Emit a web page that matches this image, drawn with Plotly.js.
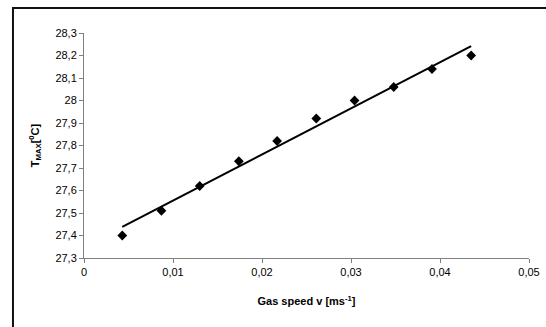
<!DOCTYPE html>
<html>
<head>
<meta charset="utf-8">
<script src="https://cdn.plot.ly/plotly-3.0.1.min.js"></script>
<style>html,body{margin:0;padding:0;background:#fff;}#chart{width:546px;height:327px;}</style>
</head>
<body>
<div id="chart"></div>
<script>
// Data
const gasSpeed = [0.0043, 0.0087, 0.0130, 0.0174, 0.0217, 0.0261, 0.0304, 0.0348, 0.0391, 0.0435];
const tMax = [27.40, 27.51, 27.62, 27.73, 27.82, 27.92, 28.00, 28.06, 28.14, 28.20];
const xTickVals = [0, 0.01, 0.02, 0.03, 0.04, 0.05];
const xTickText = ['0', '0,01', '0,02', '0,03', '0,04', '0,05'];
const yTickVals = [27.3, 27.4, 27.5, 27.6, 27.7, 27.8, 27.9, 28.0, 28.1, 28.2, 28.3];
const yTickText = ['27,3', '27,4', '27,5', '27,6', '27,7', '27,8', '27,9', '28', '28,1', '28,2', '28,3'];

// Linear least-squares trend line
const n = gasSpeed.length;
const mx = gasSpeed.reduce((a, b) => a + b, 0) / n;
const my = tMax.reduce((a, b) => a + b, 0) / n;
let sxy = 0, sxx = 0;
for (let i = 0; i < n; i++) { sxy += (gasSpeed[i] - mx) * (tMax[i] - my); sxx += (gasSpeed[i] - mx) ** 2; }
const slope = sxy / sxx, icpt = my - slope * mx;
const trendX = [gasSpeed[0], gasSpeed[n - 1]];
const trendY = trendX.map(x => icpt + slope * x);

const traces = [
  {x: trendX, y: trendY, mode: 'lines', line: {color: '#000', width: 2}, hoverinfo: 'skip', showlegend: false},
  {x: gasSpeed, y: tMax, mode: 'markers', marker: {symbol: 'diamond', size: 7.5, color: '#000'}, showlegend: false}
];

const font = {family: 'Arial, "Liberation Sans", sans-serif', size: 11, color: '#000'};
const layout = {
  width: 546, height: 327,
  margin: {l: 84, r: 17, t: 33, b: 69},
  paper_bgcolor: '#fff', plot_bgcolor: '#fff',
  font: font,
  showlegend: false,
  xaxis: {
    range: [0, 0.05], tickvals: xTickVals, ticktext: xTickText,
    showgrid: false, zeroline: false, showline: true, linecolor: '#808080', linewidth: 1,
    ticks: 'outside', ticklen: 4, tickcolor: '#808080',
    tickfont: font,
    title: {text: '<b>Gas speed v [ms<sup>-1</sup>]</b>', font: font, standoff: 20},
    automargin: false
  },
  yaxis: {
    range: [27.3, 28.3], tickvals: yTickVals, ticktext: yTickText,
    showgrid: false, zeroline: false, showline: true, linecolor: '#808080', linewidth: 1,
    ticks: 'outside', ticklen: 4, tickcolor: '#808080',
    tickfont: font,
    title: {text: '<b>T<sub>MAX</sub>[<sup>0</sup>C]</b>', font: font, standoff: 13},
    automargin: false
  },
  shapes: [
    {type: 'rect', xref: 'paper', yref: 'paper', x0: -0.1596, x1: 1.06, y0: -0.35, y1: 1.111,
     line: {color: '#111', width: 2}, fillcolor: 'rgba(0,0,0,0)', layer: 'below'}
  ]
};

Plotly.newPlot('chart', traces, layout, {staticPlot: true, displayModeBar: false});
</script>
</body>
</html>
